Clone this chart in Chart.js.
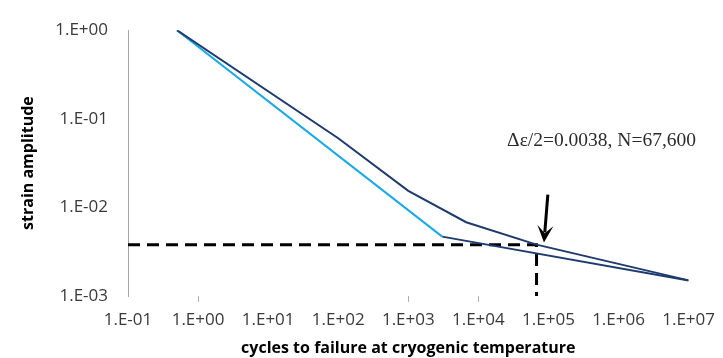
<!DOCTYPE html>
<html>
<head>
<meta charset="utf-8">
<script src="https://cdn.jsdelivr.net/npm/chart.js@4/dist/chart.umd.min.js"></script>
<style>
  html, body { margin: 0; padding: 0; background: #fff; }
  canvas { display: block; }
</style>
</head>
<body>
<canvas id="chart" width="723" height="358"></canvas>
<script>
// total strain-life curve (upper dark line)
const totalCycles = [0.5, 100, 1000, 6700, 67600, 1e7];
const totalStrain = [1.0, 0.0604, 0.0154, 0.0068, 0.0038, 0.0015];

// steep light blue segment
const plasticCycles = [0.5, 3050];
const plasticStrain = [1.0, 0.00468];

// flat dark segment after the knee
const elasticCycles = [3050, 1e7];
const elasticStrain = [0.00468, 0.0015];

// dashed read-off lines at the marked point
const markCycles = [0.1, 67600, 67600];
const markStrain = [0.0038, 0.0038, 0.001];

// arrow + note (data units)
const arrowTail = { x: 98000, y: 0.0139 };
const arrowTip = { x: 86300, y: 0.00402 };
const noteAt = { x: 25700, y: 0.0559 };
const noteText = 'Δε/2=0.0038, N=67,600';

const xTickValues = [0.1, 1, 10, 100, 1000, 1e4, 1e5, 1e6, 1e7];
const xTickLabels = ['1.E-01', '1.E+00', '1.E+01', '1.E+02', '1.E+03', '1.E+04', '1.E+05', '1.E+06', '1.E+07'];
const yTickValues = [0.001, 0.01, 0.1, 1];
const yTickLabels = ['1.E-03', '1.E-02', '1.E-01', '1.E+00'];

const toPoints = (xs, ys) => xs.map((x, i) => ({ x: x, y: ys[i] }));

const DARK = '#1f3b6e';
const LIGHT = '#1aa9e6';
const TICK_FONT = { family: 'Open Sans', size: 17 };
const TITLE_FONT = { family: 'Open Sans', size: 16, weight: 'bold' };

const notePlugin = {
    id: 'note',
    afterDatasetsDraw(chart) {
        const { ctx, scales: { x, y } } = chart;
        const tx = x.getPixelForValue(arrowTail.x), ty = y.getPixelForValue(arrowTail.y);
        const hx = x.getPixelForValue(arrowTip.x), hy = y.getPixelForValue(arrowTip.y);
        const ang = Math.atan2(hy - ty, hx - tx);
        const headLen = 17, headHalf = 8;
        ctx.save();
        ctx.strokeStyle = '#000';
        ctx.fillStyle = '#000';
        ctx.lineWidth = 3;
        ctx.beginPath();
        ctx.moveTo(tx, ty);
        ctx.lineTo(hx - Math.cos(ang) * headLen * 0.6, hy - Math.sin(ang) * headLen * 0.6);
        ctx.stroke();
        // arrow head
        const bx = hx - Math.cos(ang) * headLen, by = hy - Math.sin(ang) * headLen;
        const nx = -Math.sin(ang) * headHalf, ny = Math.cos(ang) * headHalf;
        ctx.beginPath();
        ctx.moveTo(hx, hy);
        ctx.lineTo(bx + nx, by + ny);
        ctx.lineTo(hx - Math.cos(ang) * headLen * 0.55, hy - Math.sin(ang) * headLen * 0.55);
        ctx.lineTo(bx - nx, by - ny);
        ctx.closePath();
        ctx.fill();

        ctx.font = '19.5px "Liberation Serif"';
        ctx.fillStyle = '#2b2b2b';
        ctx.textAlign = 'left';
        ctx.textBaseline = 'middle';
        ctx.fillText(noteText, x.getPixelForValue(noteAt.x), y.getPixelForValue(noteAt.y));
        ctx.restore();
    }
};

const lineStyle = (color) => ({
    borderColor: color,
    backgroundColor: color,
    borderWidth: 2,
    pointRadius: 0,
    fill: false,
    tension: 0
});

const config = {
    type: 'line',
    data: {
        datasets: [
            { label: 'total', data: toPoints(totalCycles, totalStrain), ...lineStyle(DARK) },
            { label: 'plastic', data: toPoints(plasticCycles, plasticStrain), ...lineStyle(LIGHT) },
            { label: 'elastic', data: toPoints(elasticCycles, elasticStrain), ...lineStyle(DARK) },
            {
                label: 'mark',
                data: toPoints(markCycles, markStrain),
                ...lineStyle('#000'),
                borderWidth: 3,
                borderDash: [12, 7]
            }
        ]
    },
    options: {
        responsive: false,
        animation: false,
        layout: { padding: { top: 23, right: 33, bottom: 0, left: 0 } },
        plugins: {
            legend: { display: false },
            tooltip: { enabled: false }
        },
        scales: {
            x: {
                type: 'logarithmic',
                min: 0.1,
                max: 1e7,
                afterBuildTicks: (scale) => { scale.ticks = xTickValues.map(v => ({ value: v })); },
                afterFit: (scale) => { scale.height = 62; },
                border: { display: false },
                grid: {
                    drawOnChartArea: false,
                    tickLength: 6,
                    tickColor: (c) => ([1, 4, 5].includes(c.index) ? '#b0b0b0' : 'rgba(0,0,0,0)')
                },
                ticks: {
                    autoSkip: false,
                    maxRotation: 0,
                    padding: 8,
                    color: '#3a3a3a',
                    font: TICK_FONT,
                    callback: (value, index) => xTickLabels[index]
                },
                title: {
                    display: true,
                    text: 'cycles to failure at cryogenic temperature',
                    color: '#000',
                    font: TITLE_FONT,
                    padding: { top: 0, bottom: 0 }
                }
            },
            y: {
                type: 'logarithmic',
                min: 0.001,
                max: 1,
                afterBuildTicks: (scale) => { scale.ticks = yTickValues.map(v => ({ value: v })); },
                afterFit: (scale) => { scale.width = 128; },
                border: { display: true, color: '#a6a6a6', width: 1 },
                grid: { display: false, drawTicks: false },
                ticks: {
                    padding: 20,
                    color: '#3a3a3a',
                    font: TICK_FONT,
                    callback: (value, index) => yTickLabels[index]
                },
                title: {
                    display: true,
                    text: 'strain amplitude',
                    color: '#000',
                    font: TITLE_FONT,
                    padding: { top: 19, bottom: 0 }
                }
            }
        }
    },
    plugins: [notePlugin]
};

const chart = new Chart(document.getElementById('chart').getContext('2d'), config);
</script>
</body>
</html>
